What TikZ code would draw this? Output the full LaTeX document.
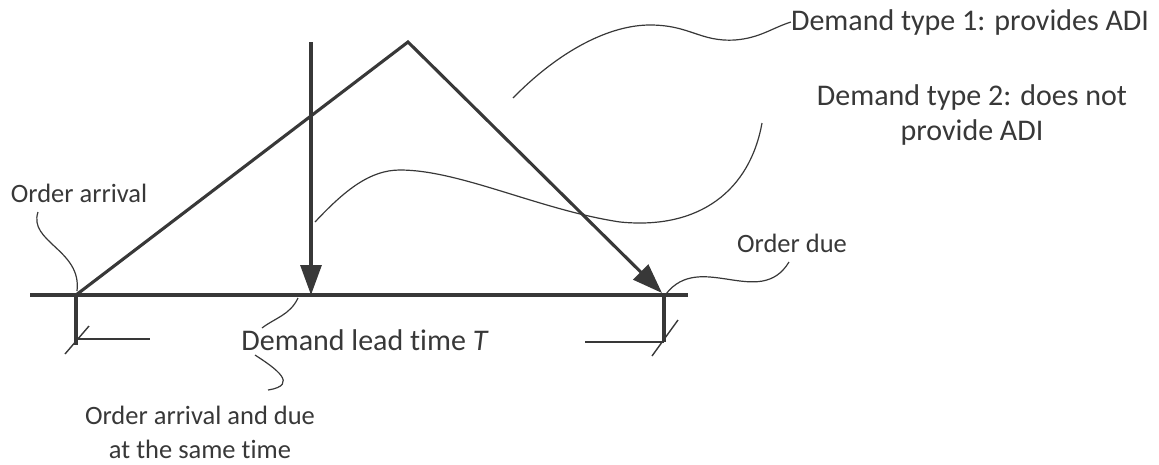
\documentclass[tikz,border=0pt]{standalone}
\usepackage{fontspec}
\setmainfont{Carlito}[Ligatures=NoCommon]
\usetikzlibrary{arrows.meta,positioning,calc}
\definecolor{ink}{HTML}{383838}
\tikzset{
    axis/.style={draw=ink,line width=3.1pt},
    arrow/.style={draw=ink,line width=3.1pt,-{Triangle[length=30pt,width=21pt]}},
    dim/.style={draw=ink,line width=1.4pt},
    callout/.style={draw=ink,line width=1.2pt},
    lbl/.style={text=ink,font=\fontsize{26.5}{34}\selectfont,inner sep=0pt,align=center},
    biglbl/.style={text=ink,font=\fontsize{30}{35}\selectfont,inner sep=0pt,align=center}
}

\begin{document}
\begin{tikzpicture}[x=1pt,y=-1pt]
    \useasboundingbox (0,0) rectangle (1159,464);
    % points on the time line
    \coordinate (lineL) at (30,295);
    \coordinate (lineR) at (688,295);
    \coordinate (arr) at (76,295);
    \coordinate (due) at (664,295);
    \coordinate (dueHit) at (662,293);
    \coordinate (peak) at (408,42);
    \coordinate (sameTop) at (311,42);
    \coordinate (same) at (311,295);
    % labels
    \node[lbl] (lblArrival) at (79,193) {Order arrival};
    \node[lbl] (lblDue) at (792,243) {Order due};
    \node[biglbl] (lblLead) at (365,340) {Demand lead time \textit{T}};
    \node[lbl] (lblSame) at (200,432) {Order arrival and due\\at the same time};
    \node[biglbl] (lblType1) at (970,22) {Demand type 1: provides ADI};
    \node[biglbl] (lblType2) at (972,115) {Demand type 2: does not\\provide ADI};
    % time line and demand arrows
    \draw[axis] (lineL) -- (lineR);
    \draw[arrow] (arr) -- (peak) -- (dueHit);
    \draw[arrow] (sameTop) -- (same);
    % dimension marks
    \draw[axis] (arr) -- +(0,50);
    \draw[dim] (77,339) -- (150,339);
    \draw[dim] (65,354) -- (89,326);
    \draw[axis] (due) -- +(0,47);
    \draw[dim] (585,342) -- (664,342);
    \draw[dim] (652,356) -- (678,320);
    % callouts
    \coordinate (arrTip) at (77,291);
    \draw[callout] (arrTip) .. controls (82,250) and (28,242) .. (38,212);
    \coordinate (dueTip) at (666,294);
    \draw[callout] (dueTip) .. controls (700,250) and (760,310) .. (789,262);
    \coordinate (leadTip) at (298,298);
    \draw[callout] (leadTip) .. controls (290,315) and (275,318) .. (262,328);
    \coordinate (leadEnd) at (255,355);
    \draw[callout] (leadEnd) .. controls (275,368) and (300,385) .. (268,390);
    \coordinate (type1Start) at (513,98);
    \draw[callout] (type1Start) .. controls (560,50) and (610,25) .. (650,25)
        .. controls (690,25) and (700,42) .. (735,40)
        .. controls (760,38) and (772,28) .. (lblType1.west);
    \coordinate (type2Start) at (315,222);
    \coordinate (type2End) at (762,123);
    \draw[callout] (type2Start) .. controls (345,190) and (370,170) .. (400,170)
        .. controls (460,170) and (540,210) .. (620,222)
        .. controls (700,230) and (750,190) .. (type2End);
\end{tikzpicture}
\end{document}
